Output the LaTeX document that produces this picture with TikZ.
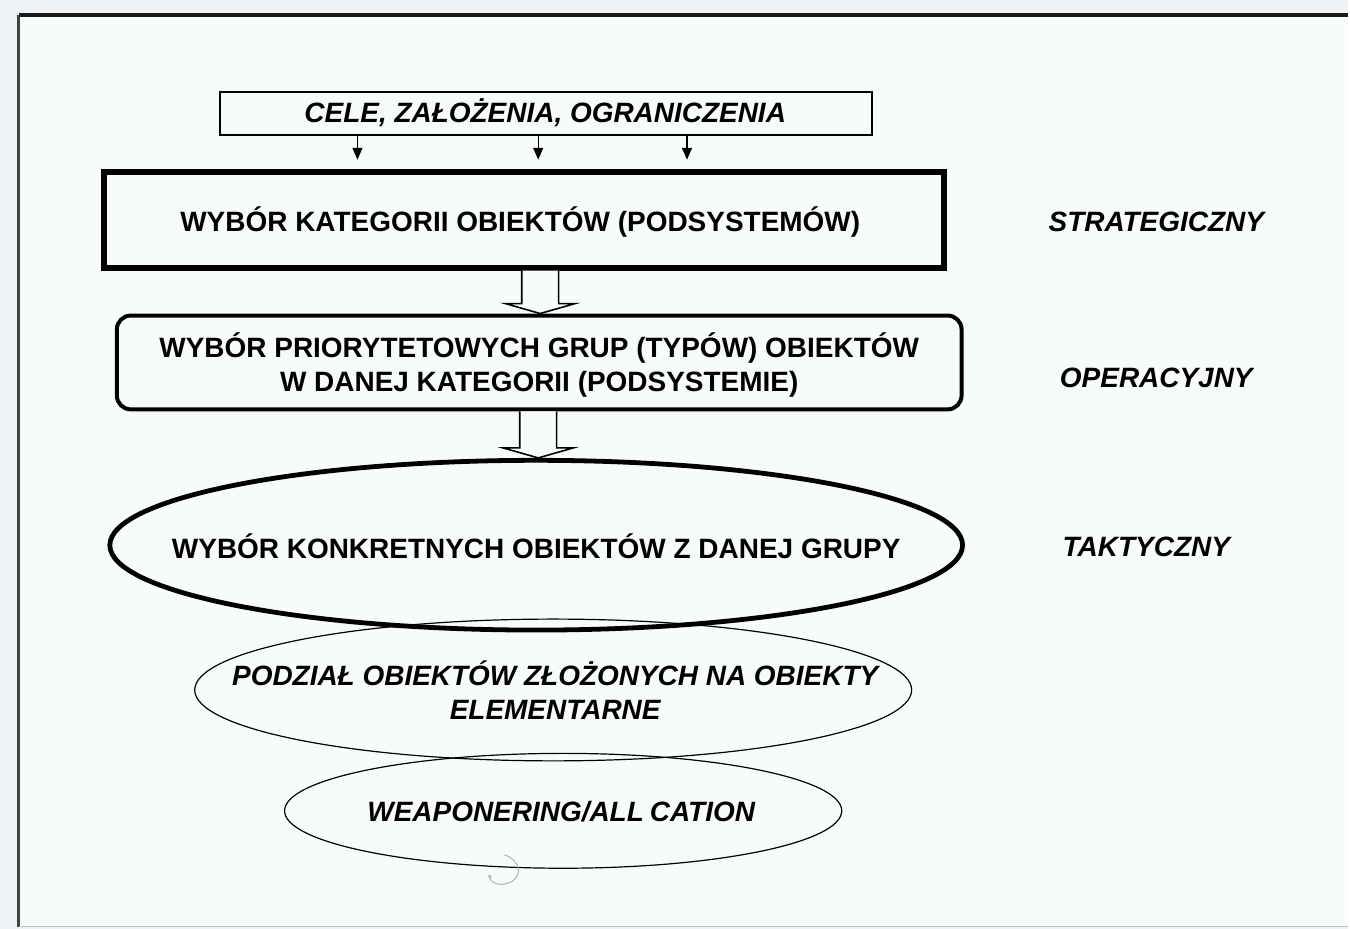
\documentclass[tikz,border=0pt]{standalone}
\usepackage{fontspec}
\setmainfont{Liberation Sans}
\usetikzlibrary{shapes.geometric,arrows.meta,calc}

\definecolor{pagebg}{HTML}{EEF2F4}
\definecolor{framebg}{HTML}{F8FBFC}

\tikzset{
  lbl/.style={font=\fontsize{14}{17}\selectfont\bfseries, align=center, inner sep=0pt},
  ilbl/.style={font=\fontsize{14}{17}\selectfont\bfseries\itshape, align=center, inner sep=0pt},
  thinbox/.style={draw, line width=1pt, minimum width=326.5pt, minimum height=21.5pt},
  thickbox/.style={draw, line width=3pt, minimum width=420.5pt, minimum height=48pt},
  roundbox/.style={draw, line width=2pt, rounded corners=7pt, minimum width=423pt, minimum height=47pt},
  bigoval/.style={draw, ellipse, line width=2.4pt, minimum width=427pt, minimum height=85pt},
  oval/.style={draw, ellipse, line width=0.6pt},
  smallarrow/.style={-{Triangle[width=5pt,length=6pt]}, line width=0.7pt, shorten >=4.5pt},
  hollow/.style={draw, line width=0.8pt, fill=framebg, line join=miter}
}

% broad hollow arrow pointing down between two vertical levels
\newcommand\hollowdown[2]{%
  \draw[hollow] ([xshift=-9.25pt]#1) -- ([xshift=-9.25pt,yshift=5pt]#2)
    -- ([xshift=-17.5pt,yshift=5pt]#2) -- (#2) -- ([xshift=17.5pt,yshift=5pt]#2)
    -- ([xshift=9.25pt,yshift=5pt]#2) -- ([xshift=9.25pt]#1);}

\begin{document}
\begin{tikzpicture}[x=0.5pt,y=-0.5pt]
  % page and frame
  \fill[pagebg] (0,0) rectangle (1350,930);
  \fill[framebg] (19,15) rectangle (1350,928);
  \draw[line width=2pt,black!90] (19,15) -- (1350,15);
  \draw[line width=1.5pt,black!75] (19,15) -- (19,928);
  \draw[line width=0.8pt,black!25] (19,928) -- (1350,928);
  \useasboundingbox (0,0) rectangle (1350,930);

  % stages
  \node[thinbox] (goals) at (546.5,113.5) {};
  \node[ilbl] (goalsT) at (546,113) {CELE, ZAŁOŻENIA, OGRANICZENIA};

  \node[thickbox] (cat) at (524.5,220) {};
  \node[lbl] (catT) at (521,222) {WYBÓR KATEGORII OBIEKTÓW (PODSYSTEMÓW)};

  \node[roundbox] (grp) at (540,363) {};
  \node[lbl] (grpT) at (540,366) {WYBÓR PRIORYTETOWYCH GRUP (TYPÓW) OBIEKTÓW\\W DANEJ KATEGORII (PODSYSTEMIE)};

  \node[oval, minimum width=359pt, minimum height=71pt] (split) at (554,691) {};
  \node[oval, minimum width=279pt, minimum height=57.5pt] (weap) at (564,812) {};
  \node[bigoval] (conc) at (537,546) {};

  \node[lbl] (concT) at (537,547) {WYBÓR KONKRETNYCH OBIEKTÓW Z DANEJ GRUPY};
  \node[ilbl] (splitT) at (556,691) {PODZIAŁ OBIEKTÓW ZŁOŻONYCH NA OBIEKTY\\ELEMENTARNE};
  \node[ilbl] (weapT) at (562,813) {WEAPONERING/ALL\kern3pt CATION};

  % levels
  \node[ilbl] (lvl1) at (1158,222) {STRATEGICZNY};
  \node[ilbl] (lvl2) at (1158,378) {OPERACYJNY};
  \node[ilbl] (lvl3) at (1148,548) {TAKTYCZNY};

  % thin arrows from the goals box
  \foreach \dx/\n in {-94.25/a,-3.75/b,70.75/c} {
    \coordinate (g\n) at ([xshift=\dx pt]goals.south);
    \draw[smallarrow] (g\n) -- (g\n |- cat.north);
  }

  % hollow arrows between stages
  \coordinate (h1) at ([xshift=8.25pt]cat.south);
  \coordinate (h1e) at (h1 |- grp.north);
  \hollowdown{h1}{h1e}
  \coordinate (h2) at ([xshift=-0.5pt]grp.south);
  \coordinate (h2e) at (h2 |- conc.north);
  \hollowdown{h2}{h2e}

  % stray pen mark
  \draw[black!30, line width=0.5pt] (505,856) .. controls (522,862) and (524,878) .. (510,884)
    .. controls (500,888) and (492,884) .. (490,879) .. controls (488,875) and (493,876) .. (491,880);
\end{tikzpicture}
\end{document}
